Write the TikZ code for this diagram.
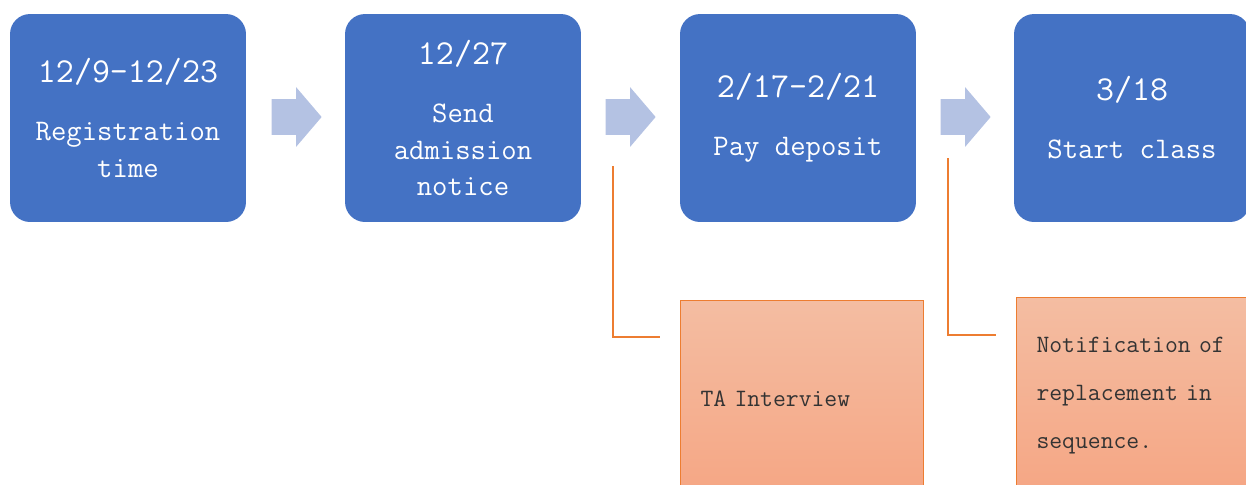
\documentclass[tikz,border=0pt]{standalone}
\usepackage{fontspec}
\usepackage{tikz}
\usetikzlibrary{shapes,arrows,positioning,calc}
\usepackage{xcolor}
\definecolor{stageblue}{HTML}{4472C4}
\definecolor{flowblue}{HTML}{B4C2E3}
\definecolor{noteline}{HTML}{ED7D31}
\definecolor{notetop}{HTML}{F4BDA2}
\definecolor{notebottom}{HTML}{F5A684}
\newcommand{\datefont}{\fontsize{19.9}{21}\selectfont}

\begin{document}
\begin{tikzpicture}[x=0.02cm, y=-0.02cm,
    stage/.style={fill=stageblue, rounded corners=0.4cm, minimum width=4.72cm, minimum height=4.16cm,
        text=white, align=center, font=\ttfamily\fontsize{17}{21}\selectfont, inner sep=0pt},
    flow/.style={single arrow, fill=flowblue, minimum height=1cm, inner xsep=0pt, inner ysep=0.35cm,
        single arrow head extend=0.24cm, single arrow tip angle=99},
    note/.style={draw=noteline, line width=0.6pt, top color=notetop, bottom color=notebottom,
        minimum width=4.86cm, minimum height=3.92cm, text width=4.06cm, inner xsep=0.4cm,
        align=left, anchor=north west, text=black!80, font=\ttfamily\fontsize{14.2}{27.3}\selectfont},
    link/.style={draw=noteline, line width=0.8pt}]
    \useasboundingbox (0,0) rectangle (1246,484);
    \clip (0,0) rectangle (1246,484);

    % Stages
    \node[stage] (reg) at (128,118) {{\datefont 12/9-12/23}\\[12pt]Registration\\time};
    \node[stage] (notice) at (463,118) {{\datefont 12/27}\\[12pt]Send\\admission\\notice};
    \node[stage] (deposit) at (798,118) {{\datefont 2/17-2/21}\\[12pt]Pay deposit};
    \node[stage] (start) at (1132,118) {{\datefont 3/18}\\[12pt]Start class};

    % Arrows between stages
    \node[flow] (f1) at (289,117) {};
    \node[flow] (f2) at (623,117) {};
    \node[flow] (f3) at (958,117) {};

    % Notes
    \node[note] (ta) at (680,300) {TA Interview};
    \node[note] (repl) at (1016,297) {Notification of\\replacement in\\sequence.};

    % Note links
    \coordinate (l1) at (613,166);
    \coordinate (l2) at (948,158);
    \draw[link] (l1) |- ([shift={(-20,37)}]ta.north west);
    \draw[link] (l2) |- ([shift={(-20,38)}]repl.north west);
\end{tikzpicture}
\end{document}
